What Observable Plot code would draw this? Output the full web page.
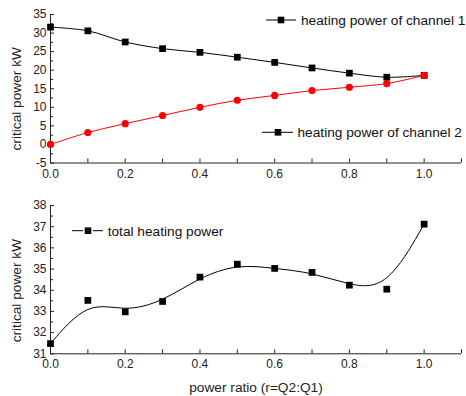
<!DOCTYPE html>
<html><head><meta charset="utf-8">
<script src="https://cdn.jsdelivr.net/npm/d3@7"></script>
<script src="https://cdn.jsdelivr.net/npm/@observablehq/plot@0.6"></script>
<style>
body{margin:0;background:#fff;font-family:Arial,"Liberation Sans",sans-serif}
svg{display:block}
</style>
</head><body><div id="chart"></div>
<script>
const ratio = [0, 0.1, 0.2, 0.3, 0.4, 0.5, 0.6, 0.7, 0.8, 0.9, 1.0];
const channel1 = [31.6, 30.6, 27.6, 25.8, 24.8, 23.5, 22.1, 20.6, 19.2, 18.1, 18.6];
const channel2 = [0, 3.2, 5.6, 7.8, 10.0, 11.9, 13.2, 14.5, 15.4, 16.4, 18.6];
const total = [31.48, 33.52, 32.98, 33.47, 34.62, 35.23, 35.03, 34.84, 34.24, 34.05, 37.12];

const xMajor = [0, 0.2, 0.4, 0.6, 0.8, 1.0];
const xMinor = [0.1, 0.3, 0.5, 0.7, 0.9, 1.1];
const yTopMajor = [-5, 0, 5, 10, 15, 20, 25, 30, 35];
const yTopMinor = [-2.5, 2.5, 7.5, 12.5, 17.5, 22.5, 27.5, 32.5];
const yBotMajor = [31, 32, 33, 34, 35, 36, 37, 38];
const yBotMinor = [31.5, 32.5, 33.5, 34.5, 35.5, 36.5, 37.5];

const legendTop = ["heating power of channel 1", "heating power of channel 2"];
const legendBottom = ["total heating power"];
const yLabel = "critical power kW";
const xLabel = "power ratio (r=Q2:Q1)";

const AX = "#222";
const FONT = "Arial, 'Liberation Sans', sans-serif";
const fmt = d3.format(".1f");
const d1 = ratio.map((x, i) => ({x, y: channel1[i]}));
const d2 = ratio.map((x, i) => ({x, y: channel2[i]}));
const dt = ratio.map((x, i) => ({x, y: total[i]}));

function axes(yMajor, yMinor, yDom) {
  return [
    Plot.ruleX([0], {y1: yDom[0], y2: yDom[1], stroke: AX}),
    Plot.ruleY([yDom[0]], {x1: 0, x2: 1.1, stroke: AX}),
    Plot.axisX({ticks: xMajor, tickSize: -4, tickPadding: 10, tickFormat: fmt, label: null, fontSize: 12, stroke: AX, fill: AX}),
    Plot.axisX({ticks: xMinor, tickSize: -4, tickFormat: () => "", label: null, stroke: AX}),
    Plot.axisY({ticks: yMajor, tickSize: -4, tickPadding: 8, tickFormat: d => String(d), label: null, fontSize: 12, stroke: AX, fill: AX}),
    Plot.axisY({ticks: yMinor, tickSize: -3, tickFormat: () => "", label: null, stroke: AX})
  ];
}

const topChart = Plot.plot({
  width: 466, height: 185,
  marginLeft: 50, marginRight: 5, marginTop: 14, marginBottom: 22.5,
  style: {fontFamily: FONT, background: "#fff", color: AX},
  x: {domain: [0, 1.1]},
  y: {domain: [-5, 35]},
  marks: [
    ...axes(yTopMajor, yTopMinor, [-5, 35]),
    Plot.line(d1, {x: "x", y: "y", curve: "catmull-rom", stroke: "#000", strokeWidth: 1}),
    Plot.line(d2, {x: "x", y: "y", curve: "catmull-rom", stroke: "#ff0000", strokeWidth: 1}),
    Plot.dot(d1, {x: "x", y: "y", symbol: "square", r: 3.8, fill: "#000", stroke: "none"}),
    Plot.dot(d2, {x: "x", y: "y", symbol: "circle", r: 3.6, fill: "#ff0000", stroke: "none"}),
    Plot.text([yLabel], {frameAnchor: "left", textAnchor: "middle", lineAnchor: "middle", rotate: -90, dx: -34, dy: 10, fontSize: 13.7, fill: AX})
  ]
});

const bottomChart = Plot.plot({
  width: 466, height: 211,
  marginLeft: 50, marginRight: 5, marginTop: 20, marginBottom: 42.7,
  style: {fontFamily: FONT, background: "#fff", color: AX},
  x: {domain: [0, 1.1]},
  y: {domain: [31, 38]},
  marks: [
    ...axes(yBotMajor, yBotMinor, [31, 38]),
    Plot.line(dt, {x: "x", y: "y", curve: "basis", stroke: "#000", strokeWidth: 1}),
    Plot.dot(dt, {x: "x", y: "y", symbol: "square", r: 3.8, fill: "#000", stroke: "none"}),
    Plot.text([yLabel], {frameAnchor: "left", textAnchor: "middle", lineAnchor: "middle", rotate: -90, dx: -34, dy: 11, fontSize: 13.7, fill: AX}),
    Plot.text([xLabel], {frameAnchor: "bottom", textAnchor: "middle", lineAnchor: "middle", dy: 33.4, dx: 0, fontSize: 13.7, fill: AX})
  ]
});

function legendItem(svg, label, segs, sx, y, tx) {
  const g = d3.select(svg).append("g");
  for (const [a, b] of segs) {
    g.append("line").attr("x1", a).attr("x2", b).attr("y1", y).attr("y2", y).attr("stroke", "#000").attr("stroke-width", 1);
  }
  g.append("rect").attr("x", sx - 3.3).attr("y", y - 3.3).attr("width", 6.6).attr("height", 6.6).attr("fill", "#000");
  g.append("text").attr("x", tx).attr("y", y + 5).attr("font-size", 13.7).attr("fill", "#111")
    .attr("text-anchor", "start").attr("font-family", FONT).text(label);
}
legendItem(topChart, legendTop[0], [[266, 296]], 281, 20, 301);
legendItem(topChart, legendTop[1], [[262, 293]], 278, 132.3, 297.5);
legendItem(bottomChart, legendBottom[0], [[72, 83], [93, 103]], 88, 45.7, 107.7);

document.getElementById("chart").append(topChart, bottomChart);
</script>
</body></html>
